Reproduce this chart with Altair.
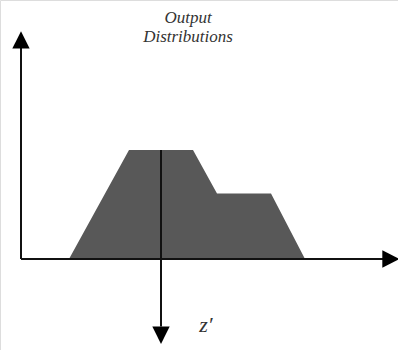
import altair as alt
import pandas as pd

# Output membership distribution (z' in arbitrary units, membership 0..1)
shape_z = [4.8, 10.8, 17.2, 19.6, 25.0, 28.4]
shape_mu = [0.0, 1.0, 1.0, 0.6, 0.6, 0.0]

# Centroid / output location on the z' axis
z_out = 14.0

W, H = 398, 350
x_dom = [-2.1, 37.7]
y_dom = [-0.835, 2.376]

xs = alt.Scale(domain=x_dom, nice=False, zero=False)
ys = alt.Scale(domain=y_dom, nice=False, zero=False)

base_x = lambda f: alt.X(f, type="quantitative", scale=xs, axis=None)
base_y = lambda f: alt.Y(f, type="quantitative", scale=ys, axis=None, stack=None)

shape = alt.Chart(pd.DataFrame({"z": shape_z, "mu": shape_mu})).mark_area(
    color="#585858", interpolate="linear", opacity=1
).encode(x=base_x("z"), y=base_y("mu"), y2=alt.datum(0))

# Axis lines
lines = pd.DataFrame({
    "x": [0.0, 0.0, z_out],
    "x2": [0.0, 36.8, z_out],
    "y": [0.0, 0.0, 1.0],
    "y2": [1.95, 0.0, -0.62],
})
rules = alt.Chart(lines).mark_rule(color="#111111", strokeWidth=2).encode(
    x=base_x("x"), x2="x2", y=base_y("y"), y2="y2"
)

# Arrowheads
heads = pd.DataFrame({
    "x": [0.0, 37.0, z_out],
    "y": [2.01, 0.0, -0.70],
    "shape": ["M-1,1L0,-1L1,1Z", "M-1,-1L1,0L-1,1Z", "M-1,-1L0,1L1,-1Z"],
})
arrows = alt.Chart(heads).mark_point(filled=True, color="#000000", opacity=1, size=300).encode(
    x=base_x("x"), y=base_y("y"), shape=alt.Shape("shape:N", scale=None)
)

# Two-line heading above the plot
heading = alt.Chart(pd.DataFrame({"x": [16.7], "y": [2.285], "text": ["Output\nDistributions"]})).mark_text(
    font="Liberation Serif", fontStyle="italic", color="#333333", fontSize=17,
    align="center", baseline="top", lineBreak="\n", lineHeight=19
).encode(x=base_x("x"), y=base_y("y"), text="text:N")

# Axis label for z'
zlabel = alt.Chart(pd.DataFrame({"x": [18.5], "y": [-0.61], "text": ["z\u2032"]})).mark_text(
    font="Liberation Serif", fontStyle="italic", color="#333333", fontSize=22,
    align="center", baseline="middle"
).encode(x=base_x("x"), y=base_y("y"), text="text:N")

chart = alt.layer(shape, rules, arrows, heading, zlabel).properties(
    width=W, height=H, padding=0, autosize=alt.AutoSizeParams(type="none")
).configure_view(stroke=None).configure(background="white")

chart.save("out.html", embed_options={"renderer": "svg", "actions": False})
